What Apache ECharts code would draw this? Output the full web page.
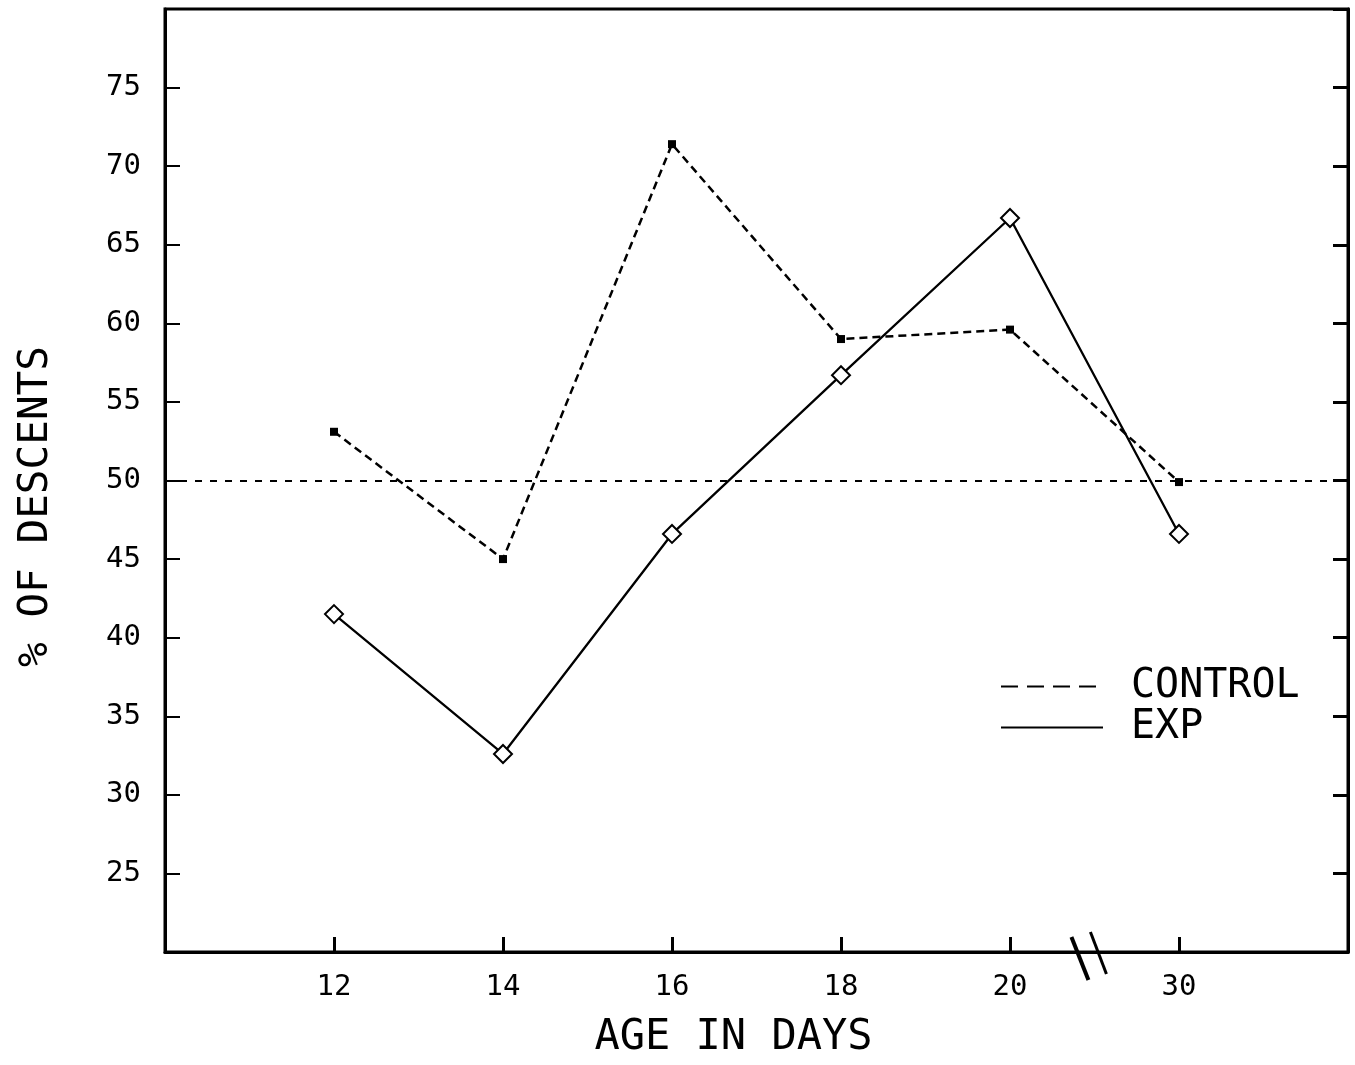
<!DOCTYPE html>
<html>
<head>
<meta charset="utf-8">
<script src="https://cdn.jsdelivr.net/npm/echarts@6/dist/echarts.min.js"></script>
<style>
  html, body { margin: 0; padding: 0; background: #fff; }
  #main { width: 1355px; height: 1065px; }
</style>
</head>
<body>
<div id="main"></div>
<script>
// ages on the x axis (30 sits after a break)
var ages = ['12', '14', '16', '18', '20', '30'];
var control = [53.1, 45.0, 71.4, 59.0, 59.6, 49.9];
var exp = [41.5, 32.6, 46.6, 56.7, 66.7, 46.6];
var chance = 50;

var font = 'DejaVu Sans Mono';
var chart = echarts.init(document.getElementById('main'));

function pts(vals) {
    return vals.map(function (v, i) { return [i + 1, v]; });
}

chart.setOption({
    animation: false,
    backgroundColor: '#fff',
    grid: {
        left: 165, right: 7, top: 9, bottom: 113,
        show: true, borderColor: '#000', borderWidth: 3
    },
    legend: {
        orient: 'vertical',
        left: 1000,
        top: 666,
        padding: 0,
        itemWidth: 102,
        itemHeight: 2,
        itemGap: 0,
        itemStyle: { opacity: 0 },
        textStyle: { fontFamily: font, fontSize: 40, color: '#000', lineHeight: 41, padding: [0, 0, 0, 23] },
        data: [
            { name: 'CONTROL', lineStyle: { type: [17, 9] } },
            { name: 'EXP' }
        ]
    },
    xAxis: {
        type: 'value',
        min: 0, max: 7, interval: 1,
        name: 'AGE IN DAYS',
        nameLocation: 'middle',
        nameGap: 65,
        nameTextStyle: { fontFamily: font, fontSize: 42, color: '#000', padding: [0, 46, 0, 0] },
        axisLine: { lineStyle: { color: '#000', width: 3 } },
        axisTick: { inside: true, length: 15, lineStyle: { color: '#000', width: 3 } },
        axisLabel: {
            margin: 21, fontFamily: font, fontSize: 29, color: '#000',
            formatter: function (v) { return ages[v - 1] || ''; }
        },
        splitLine: { show: false }
    },
    yAxis: [{
        type: 'value',
        min: 20, max: 80, interval: 5,
        name: '% OF DESCENTS',
        nameLocation: 'middle',
        nameRotate: 90,
        nameGap: 108,
        nameTextStyle: { fontFamily: font, fontSize: 41, color: '#000', padding: [0, 52, 0, 0] },
        axisLine: { show: true, lineStyle: { color: '#000', width: 3 } },
        axisTick: { inside: true, length: 15, lineStyle: { color: '#000', width: 2 } },
        axisLabel: {
            margin: 24, fontFamily: font, fontSize: 29, color: '#000',
            formatter: function (v) { return (v === 20 || v === 80) ? '' : v; }
        },
        splitLine: { show: false }
    }, {
        type: 'value',
        position: 'right',
        min: 20, max: 80, interval: 5,
        axisLine: { show: true, lineStyle: { color: '#000', width: 3 } },
        axisTick: { inside: true, length: 15, lineStyle: { color: '#000', width: 3 } },
        axisLabel: { show: false },
        splitLine: { show: false }
    }],
    series: [{
        name: 'CONTROL',
        type: 'line',
        data: pts(control),
        symbol: 'rect',
        symbolSize: 8,
        itemStyle: { color: '#000' },
        lineStyle: { color: '#000', width: 2.5, type: [8, 5] },
        markLine: {
            silent: true,
            symbol: 'none',
            label: { show: false },
            lineStyle: { color: '#000', width: 2, type: [7, 8] },
            data: [{ yAxis: chance }]
        }
    }, {
        name: 'EXP',
        type: 'line',
        data: pts(exp),
        symbol: 'emptyDiamond',
        symbolSize: 18,
        itemStyle: { color: '#000', borderWidth: 2.5 },
        lineStyle: { color: '#000', width: 2.3, type: 'solid' }
    }]
});

// axis break "//" between 20 and 30
var b = chart.convertToPixel({ gridIndex: 0 }, [5.47, 20]);
chart.setOption({
    graphic: [
        { type: 'line', shape: { x1: b[0] - 18, y1: b[1] - 15, x2: b[0] - 1, y2: b[1] + 28 }, style: { stroke: '#000', lineWidth: 4 } },
        { type: 'line', shape: { x1: b[0] + 1, y1: b[1] - 20, x2: b[0] + 17, y2: b[1] + 22 }, style: { stroke: '#000', lineWidth: 3 } }
    ]
});
</script>
</body>
</html>
